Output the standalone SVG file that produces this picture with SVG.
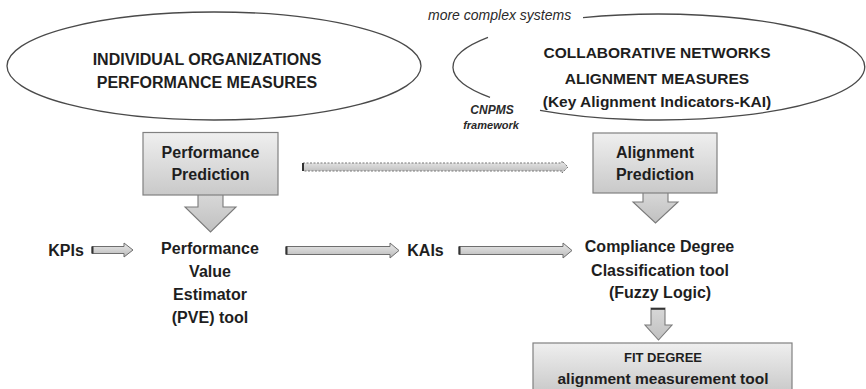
<svg xmlns="http://www.w3.org/2000/svg" width="866" height="389" viewBox="0 0 866 389">
  <style>
    .t { font-family: "Liberation Sans", Arial, sans-serif; font-weight: bold; fill: #1e1e1e; text-anchor: middle; }
    .it { font-family: "Liberation Sans", Arial, sans-serif; font-style: italic; fill: #2a2a2a; }
    .oval { fill: none; stroke: #4a4a4a; stroke-width: 1.3; }
    .box { fill: url(#boxGrad); stroke: #808080; stroke-width: 1.2; }
    .blk { fill: url(#arrowGrad); stroke: #7a7a7a; stroke-width: 1.1; }
    .hblk { fill: url(#hGrad); stroke: #6e6e6e; stroke-width: 1; }
    .dot { fill: url(#hGrad); stroke: #777; stroke-width: 1; stroke-dasharray: 2 1.5; }
    .cap { fill: #333; }
  </style>
  <defs>
    <linearGradient id="boxGrad" x1="0" y1="0" x2="0" y2="1">
      <stop offset="0" stop-color="#efefef"/>
      <stop offset="1" stop-color="#c9c9c9"/>
    </linearGradient>
    <linearGradient id="arrowGrad" x1="0" y1="0" x2="0" y2="1">
      <stop offset="0" stop-color="#d8d8d8"/>
      <stop offset="1" stop-color="#c0c0c0"/>
    </linearGradient>
    <linearGradient id="hGrad" x1="0" y1="0" x2="0" y2="1">
      <stop offset="0" stop-color="#e8e8e8"/>
      <stop offset="0.5" stop-color="#d2d2d2"/>
      <stop offset="1" stop-color="#b8b8b8"/>
    </linearGradient>
  </defs>

  <rect width="866" height="389" fill="#ffffff"/>

  <!-- left oval: individual organizations -->
  <g id="individual-measures">
    <ellipse class="oval" cx="214" cy="66" rx="207" ry="54"/>
    <text class="t" x="207" y="65" font-size="16">INDIVIDUAL ORGANIZATIONS</text>
    <text class="t" x="207" y="88" font-size="16">PERFORMANCE MEASURES</text>
  </g>

  <!-- right oval: collaborative networks, open at the two labels -->
  <g id="network-measures">
    <path class="oval" d="M 583 17.7 A 206 53 0 1 1 540 110.3"/>
    <path class="oval" d="M 490 97.3 A 206 53 0 0 1 488 37.4"/>
    <text class="t" x="657" y="58" font-size="15.5">COLLABORATIVE NETWORKS</text>
    <text class="t" x="657" y="84" font-size="15.5">ALIGNMENT MEASURES</text>
    <text class="t" x="657" y="107" font-size="15.5">(Key Alignment Indicators-KAI)</text>
  </g>

  <g id="more-complex">
    <text class="it" x="428" y="20" font-size="14">more complex systems</text>
  </g>

  <g id="cnpms">
    <text class="it" x="492" y="114" font-size="12" font-weight="bold" text-anchor="middle">CNPMS</text>
    <text class="it" x="491" y="129" font-size="11" font-weight="bold" text-anchor="middle">framework</text>
  </g>

  <g id="connectors">
    <!-- block arrows down out of the prediction boxes -->
    <polygon class="blk" points="198,194 223,194 223,207 236,207 210.5,232 185,207 198,207"/>
    <polygon class="blk" points="643,192 668,192 668,202 678,202 655.5,223 633,202 643,202"/>
    <!-- compliance degree to fit degree -->
    <polygon class="blk" points="651,308 665,308 665,325 672,325 658.5,340 645,325 651,325"/>
    <rect class="cap" x="651" y="308" width="14" height="1.8"/>

    <!-- dotted arrow between the two predictions -->
    <polygon class="dot" points="303,163 562,163 562,161 568,167 562,173 562,171 303,171"/>
    <rect class="cap" x="302" y="163" width="2" height="8"/>

    <!-- KPIs into the estimator -->
    <polygon class="hblk" points="92,246.5 124,246.5 124,243 133,250 124,257 124,253.5 92,253.5"/>
    <rect class="cap" x="91.5" y="246.5" width="2" height="7"/>

    <!-- estimator to KAIs -->
    <polygon class="hblk" points="286,246.5 390,246.5 390,243 399,250.5 390,258 390,254.5 286,254.5"/>
    <rect class="cap" x="285.5" y="246.5" width="2" height="8"/>

    <!-- KAIs to compliance degree -->
    <polygon class="hblk" points="459,246.5 563,246.5 563,243 572,250.5 563,258 563,254.5 459,254.5"/>
    <rect class="cap" x="458.5" y="246.5" width="2" height="8"/>
  </g>

  <g id="performance-prediction">
    <rect class="box" x="143" y="132.5" width="135" height="62.5"/>
    <text class="t" x="210.5" y="158" font-size="16">Performance</text>
    <text class="t" x="210.5" y="180" font-size="16">Prediction</text>
  </g>

  <g id="alignment-prediction">
    <rect class="box" x="593" y="133" width="124" height="60"/>
    <text class="t" x="655" y="158" font-size="16">Alignment</text>
    <text class="t" x="655" y="180" font-size="16">Prediction</text>
  </g>

  <g id="kpis">
    <text class="t" x="66" y="256" font-size="16">KPIs</text>
  </g>

  <g id="pve-tool">
    <text class="t" x="210" y="254" font-size="16">Performance</text>
    <text class="t" x="210" y="277" font-size="16">Value</text>
    <text class="t" x="210" y="300" font-size="16">Estimator</text>
    <text class="t" x="210" y="323" font-size="16">(PVE) tool</text>
  </g>

  <g id="kais">
    <text class="t" x="425.5" y="256" font-size="16">KAIs</text>
  </g>

  <g id="compliance-degree">
    <text class="t" x="659.5" y="252" font-size="16">Compliance Degree</text>
    <text class="t" x="660" y="276" font-size="16">Classification tool</text>
    <text class="t" x="660" y="298" font-size="16">(Fuzzy Logic)</text>
  </g>

  <g id="fit-degree">
    <rect class="box" x="533" y="343" width="259" height="50"/>
    <text class="t" x="663" y="362" font-size="13">FIT DEGREE</text>
    <text class="t" x="663" y="384" font-size="15.5">alignment measurement tool</text>
  </g>
</svg>
